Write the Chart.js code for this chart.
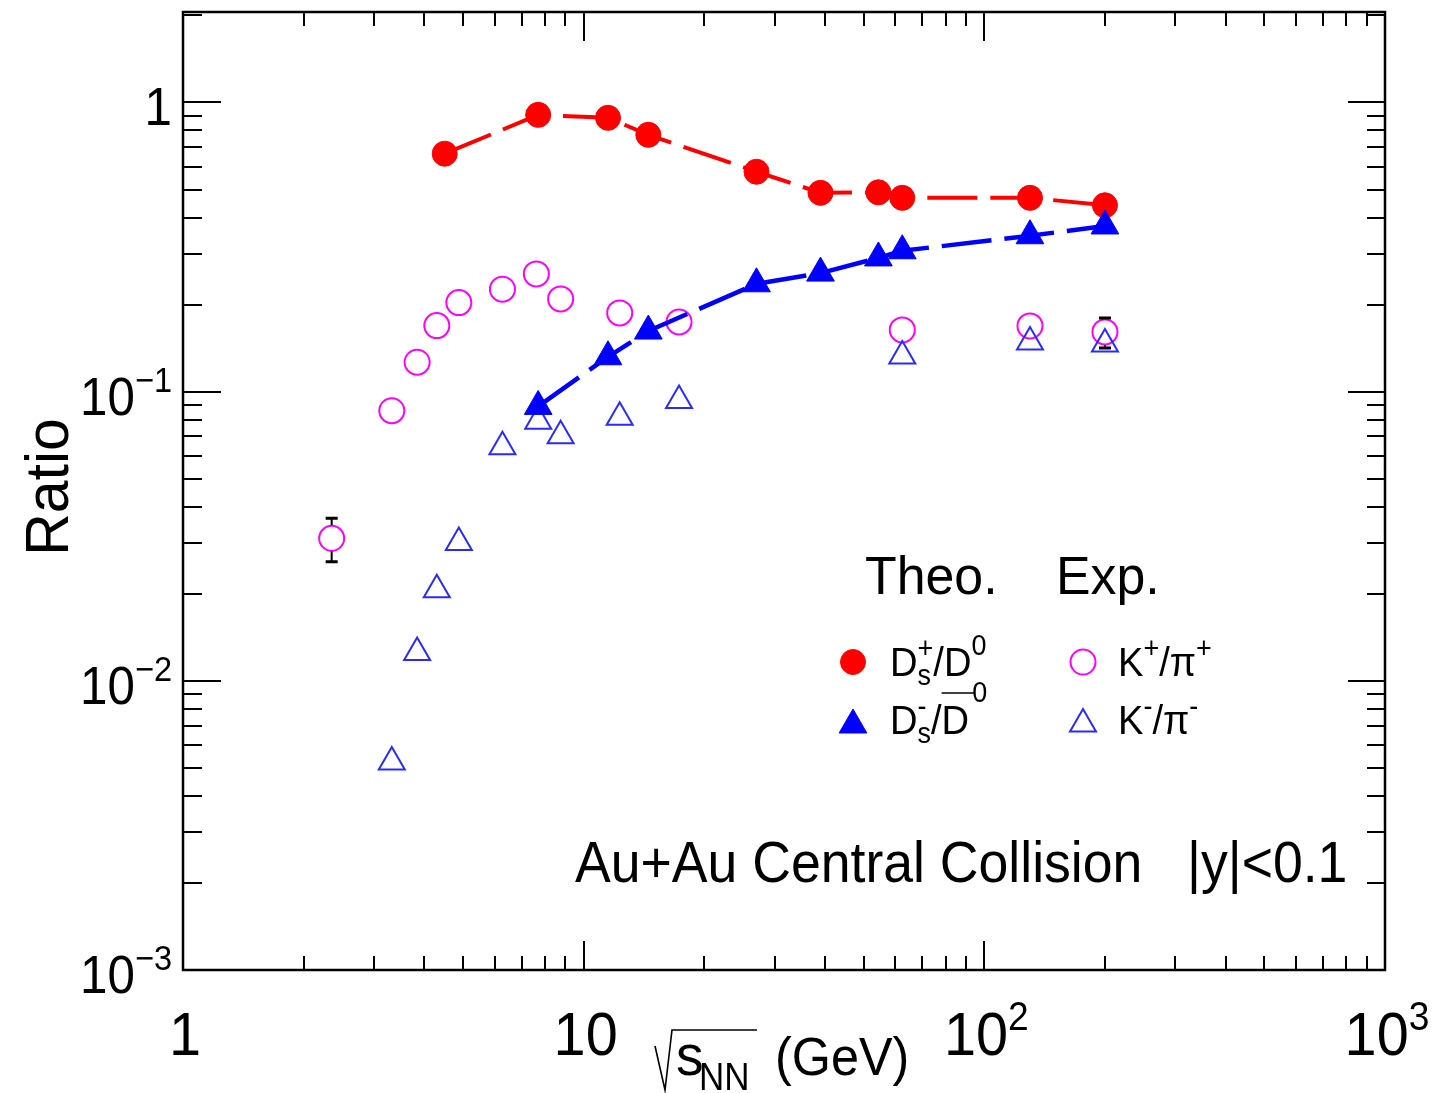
<!DOCTYPE html>
<html>
<head>
<meta charset="utf-8">
<script src="https://cdn.jsdelivr.net/npm/chart.js@4.4.1/dist/chart.umd.min.js"></script>
<style>
  html, body { margin: 0; padding: 0; background: #fff; }
  #wrap { width: 1438px; height: 1093px; }
</style>
</head>
<body>
<div id="wrap"><canvas id="grafico" width="1438" height="1093"></canvas></div>
<script>
// sqrt(s_NN) em GeV e razoes
const theoEnergias = [4.5, 7.7, 11.5, 14.5, 27, 39, 54.4, 62.4, 130, 200];
const dsPlusD0 = [0.665, 0.906, 0.885, 0.773, 0.576, 0.487, 0.489, 0.468, 0.468, 0.441];

const theoEnergiasMinus = [7.7, 11.5, 14.5, 27, 39, 54.4, 62.4, 130, 200];
const dsMinusD0bar = [0.0889, 0.132, 0.162, 0.236, 0.257, 0.290, 0.307, 0.346, 0.374];

const kPlusEnergias = [2.35, 3.32, 3.84, 4.3, 4.88, 6.27, 7.62, 8.76, 12.3, 17.3, 62.4, 130, 200];
const kPlusPiPlus = [0.0311, 0.0859, 0.1264, 0.1692, 0.2032, 0.2261, 0.2554, 0.2093, 0.1872, 0.1742, 0.1635, 0.1688, 0.1609];

const kMinusEnergias = [3.32, 3.84, 4.3, 4.88, 6.27, 7.7, 8.76, 12.3, 17.3, 62.4, 130, 200];
const kMinusPiMinus = [0.00524, 0.01254, 0.02065, 0.0301, 0.0645, 0.079, 0.0704, 0.0815, 0.0931, 0.1329, 0.1486, 0.1462];

// barras de erro (K+/pi+)
const erroEnergias = [2.35, 200];
const erroBaixo = [0.0258, 0.1416];
const erroAlto = [0.0365, 0.1799];

// ticks
const xTickValores = [1, 10, 100, 1000];
const xTickLabels = ['1', '10', '10^2', '10^3'];
const yTickValores = [1, 0.1, 0.01, 0.001];
const yTickLabels = ['1', '10^-1', '10^-2', '10^-3'];

const FONTE = '"Liberation Sans", Arial, Helvetica, sans-serif';

const pontos = (xs, ys) => xs.map((x, i) => ({ x: x, y: ys[i] }));

// texto com compressao horizontal
function texto(ctx, s, x, y, size, sx, rot) {
    ctx.save();
    ctx.font = size + 'px ' + FONTE;
    ctx.fillStyle = '#000';
    ctx.textAlign = 'left';
    ctx.textBaseline = 'alphabetic';
    ctx.translate(x, y);
    if (rot) ctx.rotate(rot);
    ctx.scale(sx, 1);
    ctx.fillText(s, 0, 0);
    const w = ctx.measureText(s).width * sx;
    ctx.restore();
    return w;
}

function largura(ctx, s, size, sx) {
    ctx.save();
    ctx.font = size + 'px ' + FONTE;
    const w = ctx.measureText(s).width * sx;
    ctx.restore();
    return w;
}

// partes: {t, size, dy, stay}
function rico(ctx, partes, x, y, sx, align) {
    const medir = () => {
        let w = 0, pend = 0;
        partes.forEach(p => {
            const pw = largura(ctx, p.t, p.size, sx);
            if (p.stay) { pend = Math.max(pend, pw); return; }
            w += Math.max(pw, pend); pend = 0;
        });
        return w;
    };
    let cx = x;
    if (align === 'center') cx = x - medir() / 2;
    else if (align === 'right') cx = x - medir();
    let pend = 0;
    partes.forEach(p => {
        const pw = texto(ctx, p.t, cx, y + (p.dy || 0), p.size, sx);
        if (p.stay) { pend = Math.max(pend, pw); return; }
        cx += Math.max(pw, pend); pend = 0;
    });
    return cx;
}

function labelPartes(lbl, base, sup, dy) {
    const [b, e] = lbl.split('^');
    const partes = [{ t: b, size: base }];
    if (e) partes.push({ t: e.replace('-', '\u2212'), size: sup, dy: dy });
    return partes;
}

const eixosPlugin = {
    id: 'eixosRoot',
    afterDatasetsDraw(chart) {
        const ctx = chart.ctx;
        const xs = chart.scales.x, ys = chart.scales.y;

        // barras de erro
        ctx.save();
        ctx.strokeStyle = '#000';
        erroEnergias.forEach((e, i) => {
            const px = xs.getPixelForValue(e);
            const pc = ys.getPixelForValue(kPlusPiPlus[kPlusEnergias.indexOf(e)]);
            const pt = ys.getPixelForValue(erroAlto[i]);
            const pb = ys.getPixelForValue(erroBaixo[i]);
            ctx.lineWidth = 2;
            ctx.beginPath();
            if (pc - 13 > pt) { ctx.moveTo(px, pt); ctx.lineTo(px, pc - 13); }
            if (pc + 13 < pb) { ctx.moveTo(px, pc + 13); ctx.lineTo(px, pb); }
            ctx.stroke();
            ctx.lineWidth = 3;
            ctx.beginPath();
            ctx.moveTo(px - 6, pt); ctx.lineTo(px + 6, pt);
            ctx.moveTo(px - 6, pb); ctx.lineTo(px + 6, pb);
            ctx.stroke();
        });
        ctx.restore();
    },
    afterDraw(chart) {
        const ctx = chart.ctx;
        const a = chart.chartArea;
        const xs = chart.scales.x, ys = chart.scales.y;

        ctx.save();
        ctx.strokeStyle = '#000';
        // ticks
        ctx.lineWidth = 2;
        ctx.beginPath();
        for (let k = 0; k <= 2; k++) {
            for (let m = 1; m <= 9; m++) {
                const v = m * Math.pow(10, k);
                if (v === 1) continue;
                const px = Math.round(xs.getPixelForValue(v));
                const len = m === 1 ? 29 : 14;
                ctx.moveTo(px, a.bottom); ctx.lineTo(px, a.bottom - len);
                ctx.moveTo(px, a.top); ctx.lineTo(px, a.top + len);
            }
        }
        for (let k = -3; k <= 0; k++) {
            for (let m = 1; m <= 9; m++) {
                const v = m * Math.pow(10, k);
                if (v > ys.max || (k === -3 && m === 1)) continue;
                const py = Math.round(ys.getPixelForValue(v));
                ctx.moveTo(a.left, py); ctx.lineTo(a.left + (m === 1 ? 38 : 19), py);
                ctx.moveTo(a.right, py); ctx.lineTo(a.right - (m === 1 ? 37 : 18), py);
            }
        }
        ctx.stroke();
        // moldura
        ctx.lineWidth = 2.5;
        ctx.strokeRect(a.left, a.top, a.right - a.left, a.bottom - a.top);
        ctx.restore();

        // labels eixo x
        xTickValores.forEach((v, i) => {
            const px = xs.getPixelForValue(v);
            rico(ctx, labelPartes(xTickLabels[i], 62, 40, -25), px + 2, 1055, 0.93, 'center');
        });
        // labels eixo y
        yTickValores.forEach((v, i) => {
            const py = ys.getPixelForValue(v);
            rico(ctx, labelPartes(yTickLabels[i], 53, 35, -23), 172, py + 23, 0.93, 'right');
        });

        // titulo eixo y
        const wRatio = largura(ctx, 'Ratio', 62, 0.95);
        texto(ctx, 'Ratio', 68, 487 + wRatio / 2, 62, 0.95, -Math.PI / 2);

        // titulo eixo x: sqrt(s_NN) (GeV)
        ctx.save();
        ctx.strokeStyle = '#000';
        ctx.lineWidth = 1.6;
        ctx.beginPath();
        ctx.moveTo(655, 1046);
        ctx.lineTo(665, 1090);
        ctx.lineTo(672, 1030);
        ctx.lineTo(757, 1030);
        ctx.stroke();
        ctx.restore();
        texto(ctx, 's', 676, 1075, 58, 0.95);
        texto(ctx, 'NN', 699, 1090, 38, 0.92);
        texto(ctx, '(GeV)', 775, 1075, 53, 0.95);

        // anotacao
        texto(ctx, 'Au+Au Central Collision', 575, 882, 57, 0.94);
        texto(ctx, '|y|<0.1', 1187, 882, 57, 0.94);

        // legenda
        texto(ctx, 'Theo.', 865, 594, 54, 0.96);
        texto(ctx, 'Exp.', 1056, 594, 54, 0.96);

        const ds = chart.data.datasets;
        const marcadores = [
            [ds[0], 853, 662], [ds[1], 853, 725], [ds[2], 1083, 662], [ds[3], 1083, 724]
        ];
        marcadores.forEach(([d, x, y]) => {
            ctx.save();
            ctx.fillStyle = d.pointBackgroundColor;
            ctx.strokeStyle = d.pointBorderColor;
            ctx.lineWidth = d.pointBorderWidth;
            Chart.helpers.drawPoint(ctx, {
                pointStyle: d.pointStyle, radius: d.pointRadius, rotation: 0, borderWidth: d.pointBorderWidth
            }, x, y);
            ctx.restore();
        });

        const F = 41, S = 29, SX = 0.93;
        // D_s^+/D^0
        rico(ctx, [
            { t: 'D', size: F },
            { t: '+', size: S, dy: -18, stay: true },
            { t: 's', size: S, dy: 9 },
            { t: '/D', size: F },
            { t: '0', size: S, dy: -21 }
        ], 890, 676, SX);
        // D_s^-/Dbar^0
        const xD = rico(ctx, [
            { t: 'D', size: F },
            { t: '-', size: S, dy: -18, stay: true },
            { t: 's', size: S, dy: 9 },
            { t: '/', size: F }
        ], 890, 734, SX);
        const wD = texto(ctx, 'D', xD, 734, F, SX);
        ctx.save();
        ctx.strokeStyle = '#000';
        ctx.lineWidth = 1.6;
        ctx.beginPath();
        ctx.moveTo(xD, 693); ctx.lineTo(xD + wD + 6, 693);
        ctx.stroke();
        ctx.restore();
        texto(ctx, '0', xD + wD + 3, 702, S, SX);

        // K+/pi+
        rico(ctx, [
            { t: 'K', size: F },
            { t: '+', size: S, dy: -18 },
            { t: '/\u03C0', size: F },
            { t: '+', size: S, dy: -18 }
        ], 1118, 676, SX);
        rico(ctx, [
            { t: 'K', size: F },
            { t: '-', size: S, dy: -18 },
            { t: '/\u03C0', size: F },
            { t: '-', size: S, dy: -18 }
        ], 1118, 734, SX);
    }
};

new Chart(document.getElementById('grafico'), {
    type: 'scatter',
    data: {
        datasets: [
            {
                label: 'Ds+/D0',
                data: pontos(theoEnergias, dsPlusD0),
                showLine: true,
                borderColor: '#ff0000',
                borderWidth: 4,
                borderDash: [50, 13],
                pointStyle: 'circle',
                pointRadius: 12.5,
                pointBackgroundColor: '#ff0000',
                pointBorderColor: '#ff0000',
                pointBorderWidth: 1,
                order: 1
            },
            {
                label: 'Ds-/D0bar',
                data: pontos(theoEnergiasMinus, dsMinusD0bar),
                showLine: true,
                borderColor: '#0000ff',
                borderWidth: 4.5,
                borderDash: [50, 13],
                pointStyle: 'triangle',
                pointRadius: 16,
                pointBackgroundColor: '#0000ff',
                pointBorderColor: '#0000ff',
                pointBorderWidth: 1,
                order: 0
            },
            {
                label: 'K+/pi+',
                data: pontos(kPlusEnergias, kPlusPiPlus),
                showLine: false,
                pointStyle: 'circle',
                pointRadius: 12.5,
                pointBackgroundColor: 'rgba(0,0,0,0)',
                pointBorderColor: '#ff00ff',
                pointBorderWidth: 2,
                order: 3
            },
            {
                label: 'K-/pi-',
                data: pontos(kMinusEnergias, kMinusPiMinus),
                showLine: false,
                pointStyle: 'triangle',
                pointRadius: 15,
                pointBackgroundColor: 'rgba(0,0,0,0)',
                pointBorderColor: '#2a2aff',
                pointBorderWidth: 2,
                order: 2
            }
        ]
    },
    options: {
        responsive: false,
        animation: false,
        events: [],
        layout: { autoPadding: false, padding: { left: 183, right: 53, top: 12, bottom: 123 } },
        scales: {
            x: { type: 'logarithmic', min: 1, max: 1000, display: false },
            y: { type: 'logarithmic', min: 0.001, max: 2.055, display: false }
        },
        plugins: {
            legend: { display: false },
            tooltip: { enabled: false }
        }
    },
    plugins: [eixosPlugin]
});
</script>
</body>
</html>
